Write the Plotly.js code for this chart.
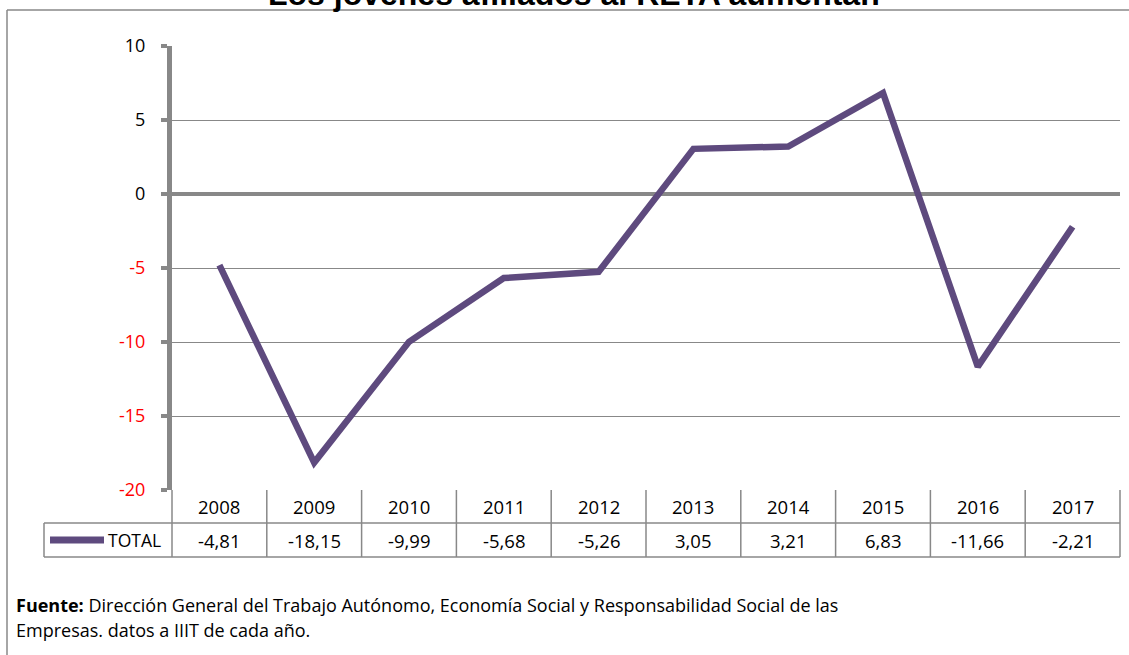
<!DOCTYPE html>
<html>
<head>
<meta charset="utf-8">
<script src="https://cdn.plot.ly/plotly-3.0.1.min.js"></script>
<style>html,body{margin:0;padding:0;background:#fff;}#chart{width:1129px;height:655px;}</style>
</head>
<body>
<div id="chart"></div>
<script>
const years = ['2008','2009','2010','2011','2012','2013','2014','2015','2016','2017'];
const totalValues = [-4.81, -18.15, -9.99, -5.68, -5.26, 3.05, 3.21, 6.83, -11.66, -2.21];
const seriesName = 'TOTAL';
const yTickValues = [10, 5, 0, -5, -10, -15, -20];
const titleText = 'Los jóvenes afiliados al RETA aumentan';
const sourceLine1 = '<b>Fuente:</b> Dirección General del Trabajo Autónomo, Economía Social y Responsabilidad Social de las';
const sourceLine2 = 'Empresas. datos a IIIT de cada año.';

const W = 1129, H = 655;
const L = 172, R = 1120, T = 46, B = 490;
const pw = R - L, ph = B - T;
const px = x => (x - L) / pw;
const py = y => (B - y) / ph;

const grey = '#888888';
const purple = '#5E4A7E';
const font = '"Open Sans", "Noto Sans", sans-serif';

const tickText = yTickValues.map(v => v < 0 ? '<span style="color:#FF0000">' + v + '</span>' : String(v));
const fmt = v => v.toFixed(2).replace('.', ',');

const shapes = [];
const annotations = [];
const n = years.length;
const rowTop = py(490), rowMid = py(523), rowBot = py(557);
const legLeft = px(44);

// table borders
shapes.push({type:'line', xref:'paper', yref:'paper', x0:legLeft, x1:1, y0:rowMid, y1:rowMid, line:{color:grey, width:1.5}});
shapes.push({type:'line', xref:'paper', yref:'paper', x0:legLeft, x1:1, y0:rowBot, y1:rowBot, line:{color:grey, width:1.5}});
shapes.push({type:'line', xref:'paper', yref:'paper', x0:legLeft, x1:legLeft, y0:rowMid, y1:rowBot, line:{color:grey, width:1.5}});
for (let k = 0; k <= n; k++) {
  shapes.push({type:'line', xref:'paper', yref:'paper', x0:k/n, x1:k/n, y0:rowTop, y1:rowBot, line:{color:grey, width:1.5}});
}
years.forEach((yr, i) => {
  annotations.push({xref:'paper', yref:'paper', x:(i+0.5)/n, y:(rowTop+rowMid)/2, text:yr, showarrow:false,
    xanchor:'center', yanchor:'middle', font:{family:font, size:18.5, color:'#000'}});
  annotations.push({xref:'paper', yref:'paper', x:(i+0.5)/n, y:(rowMid+rowBot)/2, text:fmt(totalValues[i]), showarrow:false,
    xanchor:'center', yanchor:'middle', font:{family:font, size:18.5, color:'#000'}});
});
// legend key
shapes.push({type:'line', xref:'paper', yref:'paper', x0:px(50), x1:px(104), y0:(rowMid+rowBot)/2, y1:(rowMid+rowBot)/2, line:{color:purple, width:7}});
annotations.push({xref:'paper', yref:'paper', x:px(106), y:(rowMid+rowBot)/2, text:seriesName, showarrow:false,
  xanchor:'left', yanchor:'middle', font:{family:font, size:17.5, color:'#000'}});

// outer border
shapes.push({type:'line', xref:'paper', yref:'paper', x0:px(7), x1:px(1135), y0:py(10), y1:py(10), line:{color:grey, width:1.5}});
shapes.push({type:'line', xref:'paper', yref:'paper', x0:px(7), x1:px(7), y0:py(10), y1:py(665), line:{color:grey, width:1.5}});

// title (clipped at top, as in the reference)
annotations.push({xref:'paper', yref:'paper', x:px(574), y:py(-6), text:'<b>'+titleText+'</b>', showarrow:false,
  xanchor:'center', yanchor:'middle', font:{family:'"Liberation Sans", Arial, sans-serif', size:32, color:'#000'}});

// source
annotations.push({xref:'paper', yref:'paper', x:px(14), y:py(605), text:sourceLine1, showarrow:false,
  xanchor:'left', yanchor:'middle', font:{family:font, size:18, color:'#000'}});
annotations.push({xref:'paper', yref:'paper', x:px(14), y:py(630), text:sourceLine2, showarrow:false,
  xanchor:'left', yanchor:'middle', font:{family:font, size:18, color:'#000'}});

const trace = {
  x: years, y: totalValues, type:'scatter', mode:'lines', name:seriesName,
  line:{color:purple, width:6.5}, hoverinfo:'x+y'
};

const layout = {
  width:W, height:H,
  margin:{l:L, r:W-R, t:T, b:H-B, pad:0},
  paper_bgcolor:'#fff', plot_bgcolor:'#fff',
  showlegend:false,
  xaxis:{type:'category', range:[-0.5, n-0.5], showticklabels:false, showgrid:false, zeroline:false, showline:false, ticks:''},
  yaxis:{range:[-20, 10], tickvals:yTickValues, ticktext:tickText, showgrid:true, gridcolor:grey, gridwidth:1,
    zeroline:true, zerolinecolor:grey, zerolinewidth:4, showline:true, linecolor:grey, linewidth:5,
    ticks:'outside', ticklen:6, tickwidth:4, tickcolor:grey, ticklabelstandoff:12,
    tickfont:{family:font, size:18, color:'#000'}},
  shapes:shapes, annotations:annotations
};
Plotly.newPlot('chart', [trace], layout, {displayModeBar:false, staticPlot:true});
</script>
</body>
</html>
